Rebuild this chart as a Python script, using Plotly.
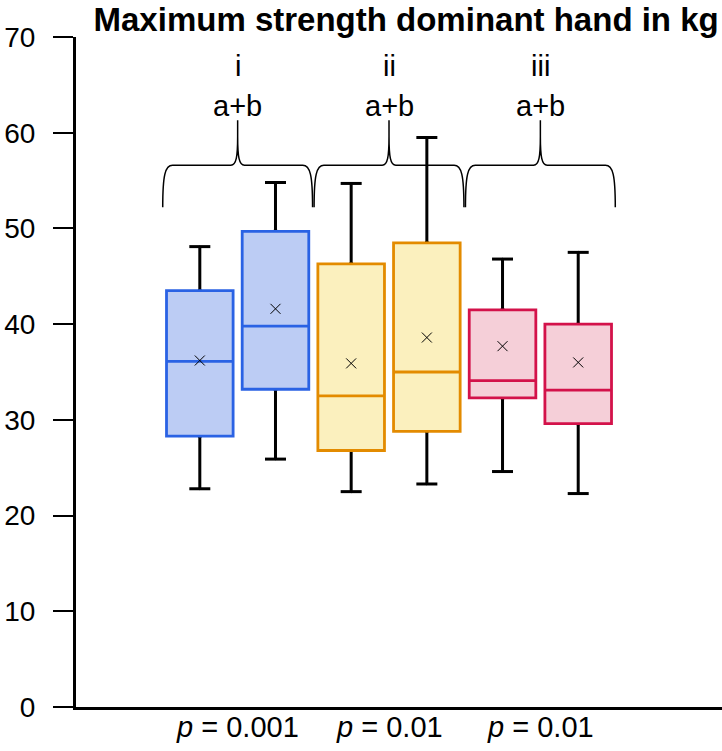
import plotly.graph_objects as go

# ---- data ----
positions = [0, 1, 2, 3, 4, 5]
lower_whisker = [22.8, 25.9, 22.5, 23.3, 24.6, 22.3]
q1 = [28.3, 33.2, 26.8, 28.8, 32.3, 29.6]
median = [36.1, 39.8, 32.5, 35.0, 34.1, 33.1]
q3 = [43.5, 49.7, 46.3, 48.5, 41.5, 40.0]
upper_whisker = [48.1, 54.8, 54.7, 59.5, 46.8, 47.5]
mean = [36.2, 41.6, 35.9, 38.6, 37.7, 36.0]

group_centers = [0.5, 2.5, 4.5]
group_labels = ["i", "ii", "iii"]
group_sig = ["a+b", "a+b", "a+b"]
p_values = ["0.001", "0.01", "0.01"]

title_text = "Maximum strength dominant hand in kg"
y_ticks = [0, 10, 20, 30, 40, 50, 60, 70]

# ---- styles ----
line_colors = ["#2A62E4", "#2A62E4", "#E38B00", "#E38B00", "#D3124A", "#D3124A"]
fill_colors = ["#BCCCF4", "#BCCCF4", "#FBF0BE", "#FBF0BE", "#F5CFD8", "#F5CFD8"]
FONT = "Liberation Sans, Arial, Helvetica, sans-serif"

fig = go.Figure()

# black whiskers (very narrow box hidden under the coloured box)
for i, x in enumerate(positions):
    fig.add_trace(go.Box(
        x=[x], q1=[q1[i]], median=[median[i]], q3=[q3[i]],
        lowerfence=[lower_whisker[i]], upperfence=[upper_whisker[i]],
        width=0.01, line=dict(color="black", width=3),
        fillcolor="rgba(0,0,0,0)", boxpoints=False, showlegend=False,
        hoverinfo="skip"))

# coloured boxes
for i, x in enumerate(positions):
    fig.add_trace(go.Box(
        x=[x], q1=[q1[i]], median=[median[i]], q3=[q3[i]],
        lowerfence=[q1[i]], upperfence=[q3[i]],
        width=0.88, line=dict(color=line_colors[i], width=2.8),
        fillcolor=fill_colors[i], boxpoints=False, showlegend=False,
        hoverinfo="skip"))

# whisker caps
fig.add_trace(go.Scatter(
    x=positions + positions, y=upper_whisker + lower_whisker, mode="markers",
    marker=dict(symbol="line-ew", size=15, line=dict(color="black", width=3)),
    showlegend=False, hoverinfo="skip"))

# means
fig.add_trace(go.Scatter(
    x=positions, y=mean, mode="markers",
    marker=dict(symbol="x-thin", size=10, line=dict(color="black", width=1)),
    showlegend=False, hoverinfo="skip"))


# curly braces
def brace_path(xc, half, yb, ym, ycusp, yp, dx, dc):
    x0, x1 = xc - half, xc + half
    return (
        f"M {x0},{yb} C {x0},{ym - 1.0} {x0 + 0.25 * dx},{ym} {x0 + dx},{ym} "
        f"L {xc - dc},{ym} C {xc - 0.2 * dc},{ym} {xc},{ym + 0.9} {xc},{ycusp} "
        f"L {xc},{yp} L {xc},{ycusp} "
        f"C {xc},{ym + 0.9} {xc + 0.2 * dc},{ym} {xc + dc},{ym} "
        f"L {x1 - dx},{ym} C {x1 - 0.25 * dx},{ym} {x1},{ym - 1.0} {x1},{yb}"
    )


shapes = []
for gc in group_centers:
    shapes.append(dict(
        type="path", xref="x", yref="y",
        path=brace_path(gc, 0.99, 52.2, 56.6, 59.6, 61.3, 0.13, 0.09),
        line=dict(color="black", width=1.5)))

annotations = []
for gc, lab, sig, pv in zip(group_centers, group_labels, group_sig, p_values):
    annotations.append(dict(x=gc, y=67.0, xref="x", yref="y", text=lab,
                            yanchor="middle", showarrow=False,
                            font=dict(family=FONT, size=29, color="black")))
    annotations.append(dict(x=gc, y=62.8, xref="x", yref="y", text=sig,
                            yanchor="middle", showarrow=False,
                            font=dict(family=FONT, size=29, color="black")))
    annotations.append(dict(x=gc, y=-0.03, xref="x", yref="paper",
                            text=f"<i>p</i> = {pv}", yanchor="middle",
                            showarrow=False,
                            font=dict(family=FONT, size=29, color="black")))

fig.update_layout(
    width=722, height=751,
    margin=dict(l=76, r=0, t=37, b=44),
    paper_bgcolor="white", plot_bgcolor="white",
    boxmode="overlay",
    showlegend=False,
    title=dict(text=f"<b>{title_text}</b>", xref="container", yref="container",
               x=0.5625, xanchor="center", y=0.974, yanchor="middle",
               font=dict(family=FONT, size=33, color="black")),
    shapes=shapes,
    annotations=annotations,
    xaxis=dict(range=[-1.636, 6.90], showline=True, linecolor="black", linewidth=3,
               showticklabels=False, ticks="", showgrid=False, zeroline=False),
    yaxis=dict(range=[0, 70], tickvals=y_ticks, showline=True, linecolor="black",
               linewidth=3, ticks="outside", ticklen=20, tickwidth=2, tickcolor="black",
               ticklabelstandoff=12, showgrid=False, zeroline=False,
               tickfont=dict(family=FONT, size=28, color="black")),
)

fig.write_html("out.html", config={"displayModeBar": False},
               post_script="document.body.style.margin='0';document.body.style.overflow='hidden';")
